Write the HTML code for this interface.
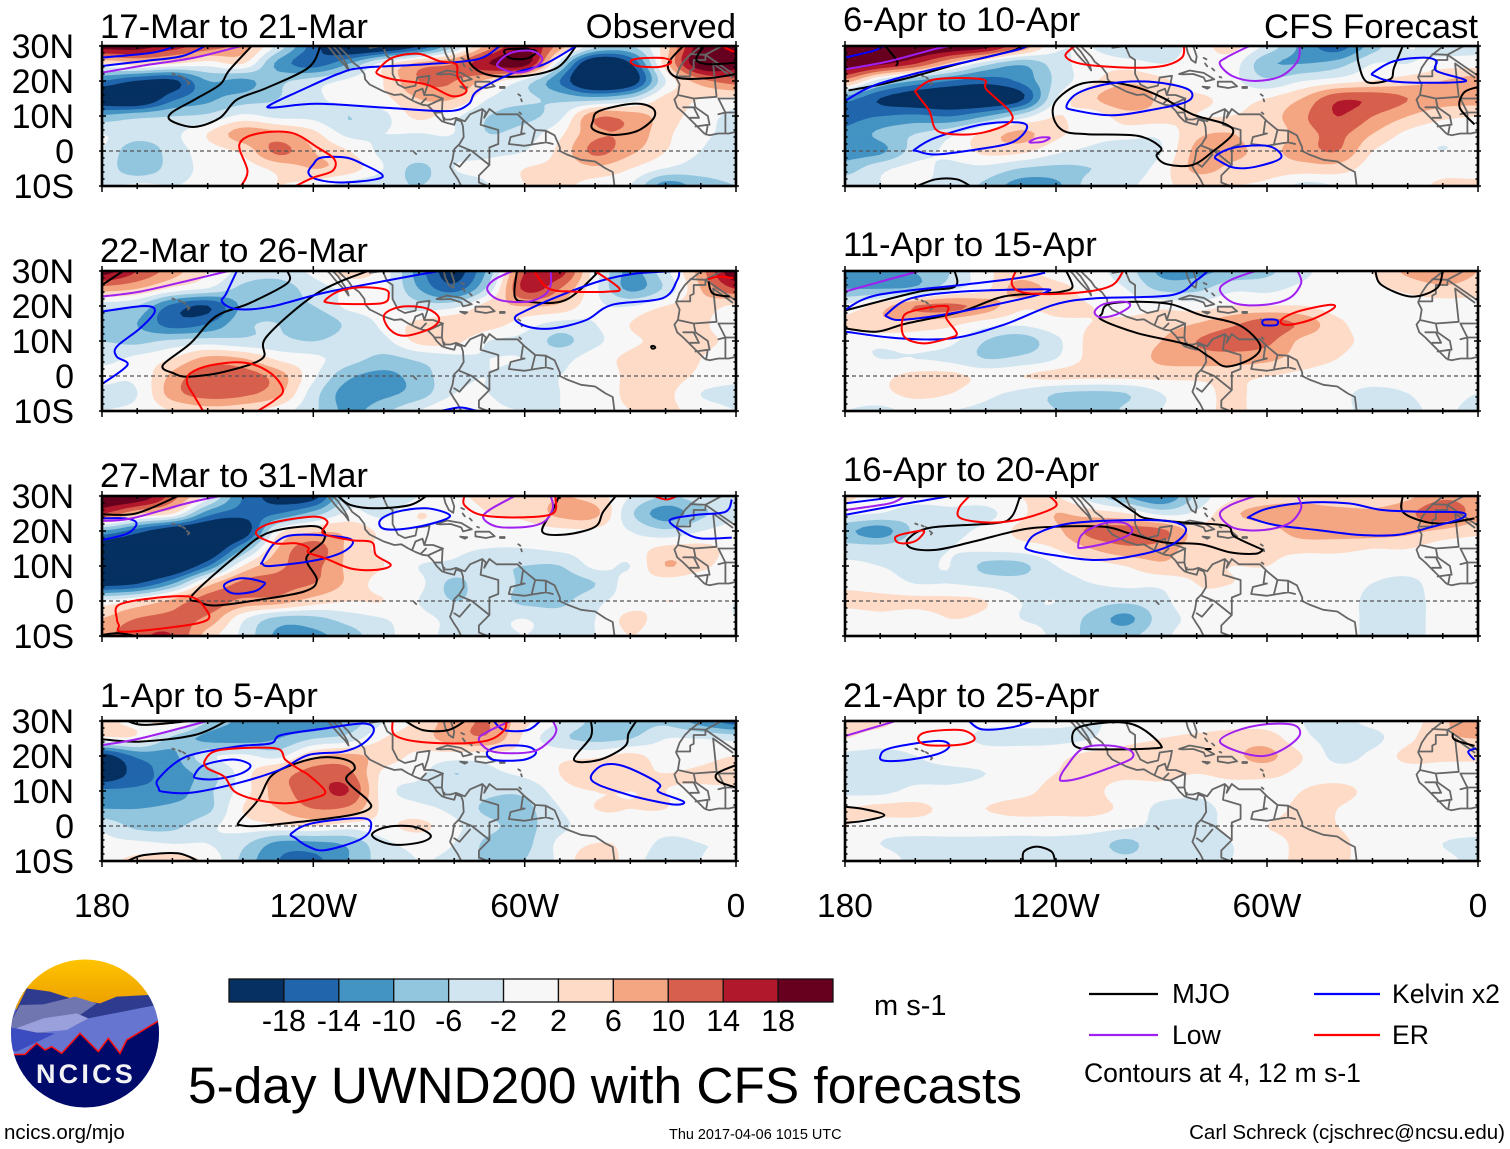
<!DOCTYPE html>
<html lang="en">
<head>
<meta charset="utf-8">
<title>5-day UWND200 with CFS forecasts</title>
<style>
html,body{margin:0;padding:0;background:#fff;width:1510px;height:1149px;overflow:hidden}
svg{display:block}
text{font-family:"Liberation Sans",Arial,sans-serif;fill:#000}
</style>
</head>
<body>
<svg id="chart" xmlns="http://www.w3.org/2000/svg" width="1510" height="1149" viewBox="0 0 1510 1149">
<rect width="1510" height="1149" fill="#fff"/>
<g id="panels"></g>

<g id="colorbar"></g>
<text x="874" y="1015" font-size="29">m s-1</text>

<text x="188" y="1103" font-size="51.4">5-day UWND200 with CFS forecasts</text>

<g>
  <line x1="1089" x2="1158" y1="994" y2="994" stroke="#000" stroke-width="2.2"/>
  <text x="1172" y="1003" font-size="27.5">MJO</text>
  <line x1="1314" x2="1380" y1="994" y2="994" stroke="#0000ff" stroke-width="2.2"/>
  <text x="1392" y="1003" font-size="26.6">Kelvin x2</text>
  <line x1="1089" x2="1158" y1="1035" y2="1035" stroke="#a020f0" stroke-width="2.2"/>
  <text x="1172" y="1044" font-size="26.6">Low</text>
  <line x1="1314" x2="1380" y1="1035" y2="1035" stroke="#ff0000" stroke-width="2.2"/>
  <text x="1392" y="1044" font-size="26.6">ER</text>
  <text x="1084" y="1082" font-size="26.5">Contours at 4, 12 m s-1</text>
</g>

<text x="4" y="1139" font-size="20.5">ncics.org/mjo</text>
<text x="669" y="1139" font-size="14.45">Thu 2017-04-06 1015 UTC</text>
<text x="1505" y="1139" font-size="20.5" text-anchor="end">Carl Schreck (cjschrec@ncsu.edu)</text>

<g>
  <defs><clipPath id="logoClip"><circle cx="85" cy="1033.5" r="74"/></clipPath>
  <linearGradient id="sunGrad" x1="0" y1="0" x2="0" y2="1"><stop offset="0" stop-color="#ffc400"/><stop offset="1" stop-color="#eb9c00"/></linearGradient></defs>
  <g clip-path="url(#logoClip)">
    <rect x="10" y="990" width="150" height="100" fill="#6575d0"/>
    <rect x="10" y="959" width="150" height="50" fill="url(#sunGrad)"/>
    <g transform="translate(0,950) scale(0.33333)">
      <path d="M80,115 L150,125 L215,146 L300,160 L350,140 L445,135 L490,210 L20,240 Z" fill="#2f3b8f"/>
      <path d="M20,240 L60,165 L130,163 L225,140 L290,160 L240,195 L265,210 L100,260 Z" fill="#7077b0"/>
      <path d="M240,195 L340,150 L450,135 L470,165 L265,205 Z" fill="#2f3b8f"/>
      <path d="M30,320 L130,270 L200,240 L265,205 L470,165 L490,230 L360,320 Z" fill="#6575d0"/>
      <path d="M48,235 L130,205 L230,190 L265,205 L200,240 L110,248 Z" fill="#9aa0dc"/>
      <path d="M20,232 L48,235 L110,248 L165,250 L50,305 L20,300 Z" fill="#3b4bc0"/>
      <path d="M20,315 L75,313 L110,280 L135,300 L155,290 L185,310 L240,250 L295,305 L325,265 L360,310 L380,270 L480,210 L500,600 L0,600 Z" fill="#000a6b"/>
      <path d="M40,314 L75,313 L110,280 L135,300 L155,290 L185,310 L240,250 L295,305 L325,265 L360,310 L380,270 L480,210" fill="none" stroke="#ff1010" stroke-width="4.5"/>
    </g>
    <text x="86" y="1083" text-anchor="middle" font-size="27" font-weight="bold" letter-spacing="3.2" style="fill:#f2f2f5">NCICS</text>
  </g>
</g>
</svg>

<script>
// ---- Colour scale ----
const levels = [-18,-14,-10,-6,-2,2,6,10,14,18];
const colors = ["#053061","#2166ac","#4393c3","#92c5de","#d1e5f0","#f7f7f7","#fddbc7","#f4a582","#d6604d","#b2182b","#67001f"];

// ---- Axes ----
const gridLons = [180,170,160,150,140,130,120,110,100,90,80,70,60,50,40,30,20,10,0];
const gridLats = [30,25,20,15,10,5,0,-5,-10];
const latTicks = [30,20,10,0,-10];
const latLabels = ["30N","20N","10N","0","10S"];
const lonTicks = [180,120,60,0];
const lonLabels = ["180","120W","60W","0"];
const panelTitles = ["17-Mar to 21-Mar","22-Mar to 26-Mar","27-Mar to 31-Mar","1-Apr to 5-Apr","6-Apr to 10-Apr","11-Apr to 15-Apr","16-Apr to 20-Apr","21-Apr to 25-Apr"];

// ---- Zonal wind anomaly (m/s): rows = gridLats, columns = gridLons ----
const u17Mar = [
[20,20,16,12,8,-3,-16,-24,-24,-18,-6,8,18,8,-4,-6,4,20,20],
[2,4,2,0,2,-11,-16,-10,0,7,10,18,20,-4,-24,-18,4,22,20],
[-14,-18,-19,-10,-11,-7,-4,-1,2,10,10,4,-3,-14,-26,-22,-2,8,12],
[-22,-24,-15,-11,-8,-6,-3,0,1,6,6,-2,-5,-7,-8,-5,3,2,1],
[-9,-7,-6,-5,-1,-3,-3,-6,-3,3,-1,-6,-7,-3,9,8,4,0,-3],
[-2,-4,-3,2,8,7,3,-3,-2,-2,-2,-6,-4,1,9,9,3,-1,-3],
[-2,-9,-4,0,3,11,6,2,-3,-3,-3,-3,-2,3,11,7,2,-2,-4],
[-3,-9,-4,-1,0,3,6,4,-2,-7,-2,-1,2,3,5,2,-2,-4,-4],
[-3,-1,-2,-1,0,2,0,-4,-5,-6,-4,-2,2,3,0,-2,-12,-8,-6]];
const u22Mar = [
[20,14,8,2,-3,-4,-1,4,0,-12,-20,-8,14,16,0,-11,-3,8,22],
[8,6,1,-2,-7,-8,-4,-1,-1,-10,-16,-4,15,10,-1,-11,-5,6,14],
[-4,-6,-15,-18,-9,-7,-6,-1,-1,-4,-3,4,6,5,-1,-2,2,4,1],
[-10,-10,-16,-14,-7,-6,-9,-5,-1,3,5,4,0,-3,-2,2,6,3,-1],
[-6,-7,-5,-4,-5,-5,-6,-4,-3,3,3,-2,-3,-7,-3,1,3,3,1],
[-3,-1,2,7,6,1,-1,-4,-7,-5,-3,-2,-2,-3,0,3,5,2,-1],
[-1,-1,7,13,12,8,-1,-9,-11,-8,-3,-2,-3,-2,-1,3,4,1,-1],
[-3,-2,8,12,11,7,-4,-12,-11,-8,-2,-2,-4,-2,-1,3,3,-2,-3],
[-2,-1,2,4,3,0,-5,-11,-7,-2,2,-1,-2,-2,0,2,3,0,-2]];
const u27Mar = [
[22,22,12,0,-14,-20,-20,-4,-6,-2,1,3,3,6,4,-2,-6,-4,-2],
[14,6,2,-12,-16,-14,-8,-1,-3,2,0,2,3,7,7,-5,-12,-7,-3],
[-10,-16,-22,-24,-22,0,5,5,1,1,0,0,0,1,1,-2,-5,-2,0],
[-22,-24,-24,-24,-10,6,12,5,1,1,-1,-2,-2,-1,0,0,3,3,1],
[-24,-24,-24,-14,2,9,11,5,2,-2,-3,-5,-6,-6,-1,-2,6,3,0],
[-20,-18,-10,4,11,11,10,5,0,-1,-7,-3,-7,-8,-6,0,0,-1,0],
[-1,2,7,12,9,8,4,2,2,-2,-6,-4,-7,-7,-3,0,2,1,-2],
[6,10,11,9,-1,-7,-7,-4,-2,-1,-3,-3,-2,-4,-2,3,0,-1,-2],
[9,13,14,4,-3,-11,-11,-8,-3,-1,-3,-3,-2,-3,-2,2,-1,-1,-2]];
const u1Apr = [
[3,1,3,-6,-11,-12,-14,-9,-2,3,8,10,3,-2,-7,-8,-7,-12,-16],
[1,1,-7,-11,-12,-10,-6,-4,2,4,8,9,1,-5,-7,-6,-2,-2,-3],
[-20,-13,-11,-3,-1,-3,5,7,4,1,0,0,1,1,1,3,0,0,2],
[-22,-16,-12,-8,0,7,12,11,1,-1,-6,-3,-1,2,6,3,2,3,6],
[-13,-13,-12,-7,0,8,12,14,0,-3,-3,-5,-5,0,2,2,2,1,0],
[-10,-10,-9,-7,2,6,10,9,1,-1,-3,-7,-7,-2,2,2,2,0,0],
[-3,-7,-7,-3,0,1,2,0,1,3,-1,-5,-7,-3,0,1,0,0,0],
[-1,-1,-2,-2,-5,-11,-11,-9,-3,-1,-2,-7,-7,-1,2,1,-3,-2,-2],
[1,3,4,1,-7,-14,-15,-10,-4,-2,-3,-7,-6,-1,5,0,-4,-2,0]];
const u6Apr = [
[20,22,22,22,20,10,-1,-2,-6,-5,0,3,-3,-11,-16,-8,-2,-4,-3],
[22,19,14,5,-4,-9,-4,0,0,-2,0,0,-9,-10,-8,-2,-2,0,0],
[8,-4,-10,-14,-16,-13,-5,1,5,3,-1,-1,-5,-2,0,2,4,6,8],
[-12,-18,-21,-22,-23,-19,-2,5,9,5,3,1,2,6,13,13,10,8,8],
[-15,-14,-13,-14,-10,-4,2,0,4,4,2,2,4,9,14,10,6,3,2],
[-13,-9,-6,-3,3,7,3,0,0,-1,5,6,3,8,11,6,1,-1,0],
[-12,-11,-4,-1,3,3,-1,-3,-5,-2,7,7,5,8,10,2,-1,-2,-1],
[-8,-3,-1,-3,-3,-6,-7,-6,-5,0,7,5,4,4,4,0,-1,0,0],
[-3,-2,-2,-3,-7,-12,-11,-4,-3,1,3,2,1,-3,-2,-1,0,3,3]];
const u11Apr = [
[-12,-11,-10,-6,1,3,-1,-1,-4,-11,-11,-9,-7,-3,0,2,7,9,6],
[-10,-10,-9,-3,1,8,4,0,-2,-7,-7,-3,-3,-1,0,1,3,5,4],
[-1,4,10,11,8,3,3,2,0,1,0,2,2,2,0,0,0,0,0],
[3,5,4,3,0,-1,1,2,3,4,6,9,12,9,3,0,0,0,0],
[-1,-1,0,-1,-6,-8,-3,3,3,6,10,12,11,5,3,1,0,-1,-1],
[-1,-2,-2,-3,-6,-5,-2,3,3,7,8,8,7,4,2,0,-1,-1,-1],
[0,1,3,3,1,2,3,3,3,3,3,3,2,1,0,0,0,0,0],
[0,1,3,2,-1,-3,-6,-7,-6,-2,0,3,0,0,-1,-3,-2,0,-2],
[-2,-3,-1,-2,-3,-4,-6,-9,-5,-2,0,3,0,0,-1,-3,-3,-1,-4]];
const u16Apr = [
[3,0,0,0,0,2,2,-4,-10,-14,-5,1,3,4,2,3,5,9,8],
[-1,-2,-4,-3,-3,1,6,4,2,-3,-1,5,8,9,8,7,9,13,8],
[-9,-12,-5,-3,-1,3,5,11,12,11,4,3,4,8,8,8,7,5,3],
[-4,-4,-3,-2,-1,0,2,6,9,8,4,4,3,3,3,2,2,0,0],
[-1,-2,-3,-2,-7,-7,-2,0,2,5,3,2,2,0,0,0,0,0,0],
[1,0,-2,-2,-3,-4,-3,-2,-1,-1,2,2,0,0,0,-2,-3,0,0],
[3,3,3,3,2,-2,-2,-4,-5,-3,1,0,0,0,0,-3,-3,-1,-1],
[0,1,0,2,1,-2,-3,-7,-11,-4,-1,0,0,0,0,-3,-3,-1,-1],
[0,0,0,0,0,0,-3,-7,-7,-3,0,0,0,0,0,-3,-3,-1,-1]];
const u21Apr = [
[3,3,0,0,-1,-1,-1,-2,-2,-2,-1,0,0,-2,-3,-1,0,5,10],
[2,0,0,0,-3,-3,-3,-2,1,2,3,4,4,-1,-3,-3,1,5,6],
[-3,-3,-2,0,0,0,1,3,3,2,3,5,7,2,-3,-1,3,3,3],
[-3,-3,-3,-3,-2,0,2,3,3,3,2,3,3,1,0,0,0,0,0],
[-3,-3,-1,-1,0,1,3,3,0,0,-1,0,0,2,3,1,0,0,0],
[2,3,3,1,2,3,3,3,1,-3,-3,-1,0,3,2,0,0,0,0],
[2,0,0,0,0,0,0,0,-1,-3,-3,-1,2,3,2,0,0,0,0],
[0,-2,-3,-3,-3,-3,-3,-4,-7,-3,-3,-2,0,3,3,0,0,-2,-3],
[0,0,-3,-3,-3,-2,-3,-3,-5,-3,-2,-2,0,3,3,0,0,-1,-3]];
const windFields = [u17Mar,u22Mar,u27Mar,u1Apr,u6Apr,u11Apr,u16Apr,u21Apr];

// ---- Contours: [closed(1)/open(0), lonW, lat, lonW, lat, ...] ----
const mjo17Mar = [
[0,137.5,30,144,22.9,146.5,19,153.7,14.7,160.3,10.9,160.3,8.6,153.7,6.9,146.5,9.5,141.7,14.7,133.3,18,121.4,23.8,118,30],
[1,65.8,28.6,62.8,29.2,56.8,28.6,59.2,26.5,64,26.5],
[0,76.5,30,75.3,24.8,70,21.7,60.4,21.4,50.8,23.8,45.4,30],
[1,40.6,8.6,38.9,11.4,29.3,13.5,23.9,12.4,23.3,9.5,28.1,5.7,35.3,4.6,40.6,6.2],
[0,15,30,19.3,24.8,16.7,21,7.8,20.8,0,22],
[0,9,30,11.3,26.2,7.8,24.8,0,25.2]];
const kelvin17Mar = [
[0,180,26.7,165.6,28.1,159,30],
[0,180,24.3,168,25.7,157.3,27.1,150.7,30],
[0,45.4,30,54.4,24.8,64,22,73.5,17.1,76,13.3,82,11.4,100,12.4,119,13.5,131.6,12.4,132,13.3,124,17.1,113,22,105.8,23.8,88,24.8,73.5,26.2,67,30],
[1,120,-3.8,117.8,-1.9,110.6,-1.9,105.8,-3.8,100.5,-6.7,102.3,-8.1,111.8,-9,119,-8.1,121.4,-6.2]];
const low17Mar = [
[0,180,22.4,169,24.3,153.7,26.7,140.5,30],
[1,67.6,25.2,64,28,58,28.6,55,26.2,58,23.3,62.8,22.4,67,23.8]];
const er17Mar = [
[1,101.6,23.3,97.4,26.7,90.2,27.8,84.3,25.7,79.5,24.8,79,21,76.5,17.1,80.7,15.7,87.9,19,97.4,20.5,101.6,21.9],
[0,140.5,-10,138.7,-5.7,141,1.9,135.7,5,126.2,5.2,118.8,1,114,-2.4,114.6,-5.7,120,-7.6,125,-10],
[1,29.9,25.7,26.9,26.5,20.3,26.5,18.5,25.2,22,24,28,24.3],
[0,4,30,0,28]];

const mjo22Mar = [
[0,180,26,174,30],
[0,127.4,30,127.4,26.5,138.1,20.8,147.7,17,154.9,9.3,162.7,3.1,159.7,0.8,155.5,-0.2,145.3,1.2,134.5,5,133.3,11.2,119,23.6,104.6,30],
[0,62.2,30,62.8,22.7,59.2,21.2,48.4,21.7,38.8,30],
[0,7.8,27,6.6,23.6,1.8,22.7],
[1,24.1,8.4,23.4,8.6,22.9,8.1,23.7,7.8]];
const kelvin22Mar = [
[0,141.7,30,144.7,23.6,145.9,21.2,141.7,19.1,132.1,19.8,115.4,24.1,84.3,30],
[0,180,18.4,168,20,165,18.4,169.2,13.6,175.8,8.4,175.8,5.5,172.8,3.1,180,-2.3],
[0,16.1,30,16.7,27.4,20.9,22.2,35.3,20.3,42.5,16,52,13.6,59.2,14.1,62.8,16.5,59.2,18.9,48.4,23.6,37.7,27.4,28.1,29.3,16.7,30],
[0,83.7,-10,78.3,-9,73.5,-10]];
const low22Mar = [
[0,180,22.7,169.2,24.1,154.9,27.4,144.1,30],
[0,63.4,30,68.8,27.4,70.6,24.6,67,21.7,59.2,21.2,54.4,23.1,52.6,26,52.6,30]];
const er22Mar = [
[0,151.3,-10,153.7,-5.9,155.8,-2.1,154.9,0.8,148.9,3.1,139.4,3.8,132.1,0.8,128.6,-4,131,-6.9,135.8,-10],
[1,116.6,21.7,113,24.1,107,25.3,99.9,24.8,98.6,23.1,100.5,20.8,111.8,20.6,116,21],
[1,99.9,17.4,95.1,19.8,87.9,19.3,84.3,16.5,86.7,13.6,93.9,11.5,98.1,13.1],
[0,57.4,30,53.2,25,46,24.1,36.4,24.1,33.1,25,40,30],
[0,8,27.6,5,28.4,0,27.9]];

const mjo27Mar = [
[0,180,24.8,170.4,25,158.4,30],
[1,154.3,1.7,141.7,13.1,133.3,19.3,121.4,21.4,117.2,20.3,117.2,17,122,12.2,119,6,122.6,2.7,135.7,0.3,147.7,-1.3,152.5,-0.2],
[0,113,30,109.4,27.4,102.2,26.5,92.6,27.4,87.9,30],
[0,50.2,30,52,26,55,19.8,48.4,19,40,21.2,37.7,25.5,34.1,30],
[0,180,-9.7,175.2,-9.2,170.4,-10]];
const kelvin27Mar = [
[0,180,23.6,173.4,23.6,170.2,22.2,172.8,19.3,180,17.4],
[1,134.5,11.2,131,16.5,125,18.9,110,17.9,110.6,14.6,119,11.7,132,10,134.5,10.7],
[1,145.3,4.6,140.5,6.5,134.5,5.5,134,4.6,136.9,2.7,142.9,2.2],
[1,101,23.1,96.3,25.5,87.9,26.5,81.3,24.6,84.3,22.7,92.7,20.8,99.9,20.6],
[0,1.2,29,3,25.5,11.3,24.6,18.8,23.1,15,19.8,10.1,17.9,1.2,18.1]];
const low27Mar = [
[0,180,22.9,171.6,23.6,156,27.9,146.5,30],
[0,62.8,30,70,26,71.7,23.6,67.6,21.2,59.2,21.2,54.4,22.7,52,26.5,52.6,30]];
const er27Mar = [
[1,175.8,-5,175.2,-1.1,165.6,0.8,154.9,1.2,150.7,-2.1,150.1,-5.4,158.5,-7.3,174,-8.8,175.2,-6.9],
[1,136.3,19.3,132.1,22.2,120.1,24.1,116,22.7,117.2,19.3,109.4,17.4,103.4,16.8,102.2,13.1,98,10.3,102.2,8.9,109.4,9.3,116.6,12.2,121.4,13.8,121.4,15.2,125,16.5,131,16.5],
[0,77.1,30,77.1,27.4,72.4,24.6,61.7,23.9,52,25,51.3,30],
[0,23.3,30,19.8,29,16.7,30]];

const mjo1Apr = [
[0,172.8,30,168,28.9,154.9,30],
[0,180,24.8,169.2,24.1,153.7,26,144.7,30],
[1,141.1,1.2,135.7,7.4,132.1,14.1,126.2,17.4,117.8,19.6,110.6,18.9,108.2,16.5,110.6,13.1,104.6,7.4,104,5,109.4,3.1,123.7,1.2,135.7,0,140.5,0.2],
[0,93.9,30,88.9,27.4,81.7,27.4,76.9,30],
[1,103.2,-2.1,98.7,-0.2,91.5,-0.2,86.7,-2.6,89.1,-4.5,96.3,-5.4,101.7,-4],
[0,41.2,30,41.2,25.5,46,18.9,38.8,18.9,31.6,22.7,30.5,26.5,28.3,30],
[0,172.8,-10,168,-8.3,158.5,-7.8,152.7,-10],
[0,0,17.4,5.4,15,4.8,12.7,0,11]];
const kelvin1Apr = [
[1,163.9,10.8,163.9,13.6,156.1,19.8,141.7,22.7,132.1,23.6,129.1,26,116.6,27.9,105.8,29.3,102.8,27.4,105.8,23.6,111.8,21.2,121.4,20.3,129.7,16,141.7,12.2,154.9,9.5,162.7,9.8],
[1,153.7,14.6,151,17.4,142.9,19,137.9,17.4,140.5,15,147.7,13.4,153,13.6],
[1,126.2,-2.1,120.2,0.8,105.8,2.2,103.7,-0.7,107,-4,116.6,-6.9,121.4,-5.9,125,-3.5],
[0,68.8,30,65.8,27.4,59.2,27.4,55.6,30],
[1,70.6,21.2,66.4,22.9,59.2,22.7,56.8,20.8,60.4,18.9,68.8,18.9],
[1,41.2,14.1,37.7,17.4,31.6,17,22,12.2,22,9.8,14.9,7,17.3,6.1,24.5,7.4,30.5,8.9,38.9,11.7]];
const low1Apr = [
[0,180,23.1,169.2,25,150.1,30],
[0,64,30,70.6,26.9,73,24.6,68.8,21.2,58,21.2,52.6,24.6,51,27.4,52,30]];
const er1Apr = [
[1,150.7,18.9,146.5,21.7,130.9,22.2,127.9,18.9,123.7,16,121.4,14.6,116.6,9.8,120.2,7.9,127.4,6.5,135.7,7.4,142.3,9.8,145.3,14.1,150.1,16.5],
[0,97.5,30,96.9,26,90.3,24.1,78.3,23.6,70,24.6,65.8,27.4,65.2,30]];

const mjo6Apr = [
[0,168.5,30,165.2,25.7,165.5,24.3],
[0,179,17.3,170,19,160.1,21.4,148,24.8,132.7,28.6,130.2,30],
[1,105.1,19.7,113.5,19,120,14.3,120.7,9.5,117.7,5.7,111,4.8,96.7,4.3,90.2,1,91.4,-1.4,88.4,-3.8,81.2,-4,75.2,0,69.8,4.8,71.6,7.6,81.2,10.5,89.6,15.2,96.7,18.1],
[0,34.5,30,33.9,24.8,31.5,19.7,25,20.5,23.9,23.8,21.4,30],
[0,0,18.3,4,16.7,5.2,12.4,1,7.6],
[0,159.5,-10,154.2,-8.1,148.2,-8.1,144.4,-10]];
const kelvin6Apr = [
[0,180,26.7,172,28.6,169,30],
[0,180,14.3,172.1,18.6,159,22.4,144.6,25.7,131.4,28.8,128,30],
[1,117,12.9,113.5,16.7,103.9,19.4,92,19.7,82.4,17.6,82.4,14.3,92,11.9,103.9,10.2,114.6,11.6],
[1,160.1,0.5,154.2,3.8,141,7.6,130.2,8.1,128.4,6.2,132.6,2.4,142.2,0.5,154.2,-1,159.5,0],
[1,74.6,-1.4,69.2,1,59.6,1.4,56,-1.9,63.3,-4.5,69.2,-4.8,73.4,-2.9],
[1,29.8,22.4,23.8,25.7,15.4,26.7,11.8,25.7,11.8,22.9,3.4,20,15.4,19.5,25,20,29.2,21.4]];
const low6Apr = [
[0,180,23.3,167.3,25.7,154.2,29.2,150,30],
[1,127.2,2.9,124.8,3.8,121.8,3.8,123.6,2.7,127.2,2.4],
[0,65,30,71.6,26.7,73.4,24.8,69.8,21.4,63.3,20,56,21.4,51.3,25.7,50.7,30]];
const er6Apr = [
[1,159.5,16.2,159.5,17.6,154.2,20.5,141,20.5,139.8,17.6,133.2,11.4,133.2,8.1,141,5.2,149.4,4.8,154.2,6.2,156,11.4],
[0,114.7,30,117.3,27.1,112.3,24.8,99.1,23.8,89.6,24.3,84.2,26.7,83.6,30]];

const mjo11Apr = [
[0,180,13.6,170.9,12.7,162.5,15,147,18.4,135,22.7,123.1,23.6,118.3,24.1,115.3,25.5,117.1,30],
[0,148.8,30,148.8,25.5,159,24.1,179.3,18.9,180,18.5],
[1,106.9,17.9,105.1,20.5,96.7,21.2,87.2,20.5,78.8,17.4,68,14.6,62,8.9,64.4,5,71.6,2.7,76.4,5.5,82.4,8.9,96.7,12.2,106.9,16],
[0,29.2,30,27.4,26,19,22.7,11.8,25,10,30]];
const kelvin11Apr = [
[0,123.1,29.5,131.4,27.9,147,26,170.9,23.1,180,18.9],
[0,180,12.7,164.9,10.8,149.4,10.8,135,14.6,120.7,20.3,108.7,22.2,87.2,23.1,80,27.4,76.8,30],
[1,167.9,17.9,161.3,22.2,147,24.1,124.3,24.8,122.5,24.1,129.1,22.2,147,18.4,159,16.5,165,16,167.9,16.9],
[1,60.9,16,57.3,16,57.3,14.6,60.9,14.6]];
const low11Apr = [
[0,180,24.1,169.7,27,158.9,30],
[1,109,18.4,106.3,20.6,100.3,21.2,99.1,19.8,103.3,17.4,107.5,16.8],
[0,63.3,30,70.4,27.4,73.4,24.6,69.2,20.8,60.9,20.3,53.7,22.2,50.3,26.5,51.3,30]];
const er11Apr = [
[1,163.7,16,161.3,18.4,151.2,20,151.2,16.5,148.2,12.2,150.6,10.8,157.8,9.3,163.1,11.2],
[0,131.4,30,132.6,26.5,130.2,24.1,123.1,23.4,111.1,24.1,103.9,26,100.9,30],
[1,56,16,51.3,18.4,42.3,20.3,41.1,19.3,47.7,16,54.4,14.6]];

const mjo16Apr = [
[0,130.2,30,132.6,24.1,137.4,22.2,155.4,21,161.9,17.9,161.3,15.2,154.2,14.6,143.4,17,130.2,20.3,120.7,21.2,106.3,21.2,99.1,19.3,89.6,16.8,78.8,16.2,70.4,13.9,63.3,13.5,61.1,14.6],
[0,104.5,30,97.9,25.5,94.3,23.6,83.6,22.4,71.6,21.5,69.2,18.4,61.1,14.6],
[0,21.4,30,21.4,25.5,15.4,22.7,9.4,22.2,1,23.6]];
const kelvin16Apr = [
[0,180,27.9,167.3,29.5,165,30],
[0,180,24.6,164.9,27.4,153,29.5,150,30],
[1,128.4,16,125.4,19.3,115.8,22.2,99.1,23.1,87.2,22.7,83,20.3,87.2,16,96.7,13.1,108.7,11.7,120.7,13.1,127.8,14.6],
[1,65,24.1,59.6,26.5,48.8,28.1,36.8,27.9,27.3,26,15.4,25.5,4.7,25.3,4.7,23.6,13,21.2,23,18.9,33.9,18.9,45.8,20.3,57.7,21.7,64.4,23.6]];
const low16Apr = [
[0,180,26,167.3,27.9,163.1,30],
[1,113.7,15.8,112.3,19.3,106.3,22.2,100.3,22.2,98.5,19.6,103.9,17,112.3,15.2],
[0,63.3,30,70.4,27.4,73.4,24.6,69.2,20.8,60.9,20.3,53.7,22.2,50.3,26.5,51.3,30]];
const er16Apr = [
[1,165.5,18.4,161.3,19.6,157.5,20,159.5,17.4,162.5,16.5,165.1,16.8],
[0,144.6,30,147.6,26.5,147,23.6,138.6,22.4,129.1,23.6,120.1,27,121.9,30]];

const mjo21Apr = [
[1,115.3,24.1,114.1,27.9,106.3,29.5,99.1,29.3,94.3,27,90.2,23.1,92,22.2,106.3,21.9,113.1,22.2],
[0,180,5.5,174.5,4.8,168.8,3.1,174.5,1.5,180,0.9],
[0,129.4,-10,129.1,-7.3,125.5,-5.9,121.3,-7.3,120.3,-10],
[0,77.6,22,75.8,22],
[0,7.2,26.5,6.6,24.6,1,22.9]];
const kelvin21Apr = [
[1,170,19.8,167.3,22.2,154.2,24.3,150.3,23.1,153,20.8,161.3,19,168.5,18.6],
[0,144.8,30,141,27.6,132.6,28.2,126.7,30],
[0,0.5,22.2,2.8,21.2,1,18.9]];
const low21Apr = [
[0,180,25.7,167.3,29.5,166,30],
[1,118.9,13.6,117.1,16.9,112.3,22.2,105.1,23,99.1,21.7,98.5,19.3,105.1,16.5,113.5,13.6,117.9,12.9],
[1,73.4,24.1,69.2,27,60.9,29,52.5,28.9,50.7,26,54.9,22.2,60.9,20,68,21.2]];
const er21Apr = [
[1,159.2,25,156.5,26.9,146.9,27.4,143.1,25,146.9,23.3,156.5,23.1]];

const mjoContours = [mjo17Mar,mjo22Mar,mjo27Mar,mjo1Apr,mjo6Apr,mjo11Apr,mjo16Apr,mjo21Apr];
const kelvinContours = [kelvin17Mar,kelvin22Mar,kelvin27Mar,kelvin1Apr,kelvin6Apr,kelvin11Apr,kelvin16Apr,kelvin21Apr];
const lowContours = [low17Mar,low22Mar,low27Mar,low1Apr,low6Apr,low11Apr,low16Apr,low21Apr];
const erContours = [er17Mar,er22Mar,er27Mar,er1Apr,er6Apr,er11Apr,er16Apr,er21Apr];

// ---- Coastlines and borders (lonW, lat) ----
const coastLines = [
[116,30,115,29,114,27.7,112.5,26,111,24.5,110,23,110.3,24.2,111,25.5,112,27,113,28.5,114.5,30],
[113,30,112,29,110,27,109,25.5,107,24,105.5,22,105.3,20.5,104,19,102,18,100,17,97,16,95,16.2,93,15,91,14,89,13.2,87.5,13,86,11.5,85,10,83.5,8.5,82,8,80,7.5,79.5,9,78,8.5,77.5,7,77.3,4,78.5,2,80,0.5,80.5,-2.5,81.2,-4.5,80,-6.5,79,-8,78,-10],
[100.3,30,99,27,97.5,26,97.5,22,96,19,94,18,91,18.7,90.5,21,87,21.5,87.5,19,88.5,16,86,16,83.3,15,83.5,11,83,9,81,9,79.5,9.5,77,8.5,75.5,10.5,72,12,71,11,71.5,9.5,70,12,68,10.5,64,10.5,62,10.5,60,8.5,57,6,54,5.8,51.5,4.5,50,1,50,0,48,-1,44,-2.5,40,-3,37,-5,35,-6,34.5,-10],
[83,30,82.5,28,81.5,26,80.3,25.2,80,27,81,30],
[85,22,82,23,78,22.3,75,20.5,77.5,19.9,78,21,81,22,84,21.9,85,22],
[74,19.8,70,19.8,68.5,18.5,71,18,74,18.5,74,19.8],
[67,18.3,65.7,18.3,65.7,18,67,18,67,18.3],
[78.3,18.4,76.3,18.2,77,17.8,78.3,18.4],
[78,26.6,77.2,26.2],[77.6,25,77,24.2],[75.6,23.6,75,23],[73.5,21.2,73,21],
[61.8,16.2,61.2,15.8],[61,14.8,60.8,14.2],[61.5,11,61,10.6],
[160,22.1,159.4,21.9],[158.2,21.6,157.6,21.3],[157,21.1,156.4,20.7],[155.9,20,155.2,19.4,155.6,19],
[91.4,-0.3,90.8,-0.9],
[104,29.5,100.3,30],
[92,14.5,91,17,89,17.8,88.5,16],[87.5,13,83.2,15],[85.7,11,83.7,11],[83,8.5,82.8,9.5],[89.5,13.5,88,15],
[72,11.5,72.5,7.5,67.5,6,67.5,2,70,1,70,-4,73,-7,73,-9,70.5,-10],
[60.5,8.5,61,5,60,5,64,4,64.5,2,60,1.5,57,2,54,2.5,52,2],
[57,6,58,2],[54,5.8,54,2.5],
[78.5,1.5,75,0,70,-4],[80,-3.5,78.5,-4.5,75.5,-1],
[9.8,30,13,27.5,14.5,26,16,23.8,17,21,16,19,16.5,16,17.5,14.7,16.7,12.5,15,11,13.5,9.5,11,7,9,5,7.5,4.5,5,5,2,5,0,5.5],
[8.7,27.5,8.7,26,12,26,12,23.5,13,23,13,21.3,17,21.3],
[13,27.7,8.7,27.5,0,21.5],[8.7,27.5,4,30],
[6.5,25,5.5,15.5,12,15,16.5,16],[6.5,25,1,21],
[12,15,11.5,12.5,8,10,7.5,7.5],[5,10.5,3,11,3,5],[0,15,5,15,3,11],
[15,12.5,12,12.5,10.5,9.5,13,9.5],[11.5,7,8,7.5,8.5,4.7],[0,11,3,11]];

// ---- Colourbar layout ----
const cbar = {x0:229,x1:833,y0:979,y1:1002};

// ---- Panel geometry ----
const panelBoxes = [
 {x0:102,x1:736,y0:46,titleY:38},{x0:102,x1:736,y0:271,titleY:262},
 {x0:102,x1:736,y0:496,titleY:487},{x0:102,x1:736,y0:721,titleY:707},
 {x0:845,x1:1478,y0:46,titleY:31},{x0:845,x1:1478,y0:271,titleY:256},
 {x0:845,x1:1478,y0:496,titleY:481},{x0:845,x1:1478,y0:721,titleY:707}];
const PANEL_H = 140;
const NS = "http://www.w3.org/2000/svg";

function mk(tag, attrs, parent){
  const el = document.createElementNS(NS, tag);
  for (const k in attrs) el.setAttribute(k, attrs[k]);
  parent.appendChild(el);
  return el;
}
function xScale(box, lon){ return box.x0 + (180-lon)/180*(box.x1-box.x0); }
function yScale(box, lat){ return box.y0 + (30-lat)/40*PANEL_H; }

function cr(p0,p1,p2,p3,t){
  return 0.5*((2*p1)+(-p0+p2)*t+(2*p0-5*p1+4*p2-p3)*t*t+(-p0+3*p1-3*p2+p3)*t*t*t);
}
function sampleField(g, lon, lat){
  const fx=(180-lon)/10, fy=(30-lat)/5;
  const nc=gridLons.length, nr=gridLats.length;
  const ix=Math.min(Math.floor(fx),nc-2), iy=Math.min(Math.floor(fy),nr-2);
  const tx=fx-ix, ty=fy-iy;
  const col=[];
  for(let j=-1;j<=2;j++){
    const r=g[Math.max(0,Math.min(nr-1,iy+j))];
    col.push(cr(r[Math.max(0,ix-1)],r[ix],r[ix+1],r[Math.min(nc-1,ix+2)],tx));
  }
  return cr(col[0],col[1],col[2],col[3],ty);
}
const LON_STEP=1, LAT_STEP=1;
// Filled region for one threshold, from upsampled wind values
function bandPath(box, vals, nx, ny, lonAt, latAt, test, level){
  let d="";
  for(let j=0;j<ny-1;j++){
    let runStart=-1;
    const ya=yScale(box,latAt(j)).toFixed(1), yb=yScale(box,latAt(j+1)).toFixed(1);
    for(let i=0;i<nx-1;i++){
      const c=[vals[j][i],vals[j][i+1],vals[j+1][i+1],vals[j+1][i]];
      const ins=c.map(test);
      const all=ins[0]&&ins[1]&&ins[2]&&ins[3];
      if(all){ if(runStart<0) runStart=i; continue; }
      if(runStart>=0){
        const xa=xScale(box,lonAt(runStart)).toFixed(1), xb=xScale(box,lonAt(i)).toFixed(1);
        d+="M"+xa+" "+ya+"H"+xb+"V"+yb+"H"+xa+"Z";
        runStart=-1;
      }
      if(!(ins[0]||ins[1]||ins[2]||ins[3])) continue;
      const pts=[[i,j],[i+1,j],[i+1,j+1],[i,j+1]];
      const out=[];
      for(let k=0;k<4;k++){
        const n=(k+1)%4;
        if(ins[k]) out.push(pts[k]);
        if(ins[k]!==ins[n]){
          const t=(level-c[k])/(c[n]-c[k]);
          out.push([pts[k][0]+t*(pts[n][0]-pts[k][0]),pts[k][1]+t*(pts[n][1]-pts[k][1])]);
        }
      }
      d+="M"+out.map(q=>xScale(box,180-q[0]*LON_STEP).toFixed(1)+" "+yScale(box,30-q[1]*LAT_STEP).toFixed(1)).join("L")+"Z";
    }
    if(runStart>=0){
      const xa=xScale(box,lonAt(runStart)).toFixed(1), xb=xScale(box,lonAt(nx-1)).toFixed(1);
      d+="M"+xa+" "+ya+"H"+xb+"V"+yb+"H"+xa+"Z";
    }
  }
  return d;
}

function smoothPath(box, raw){
  const closed=raw[0]===1, pts=[];
  for(let i=1;i<raw.length;i+=2) pts.push([xScale(box,raw[i]),yScale(box,raw[i+1])]);
  const n=pts.length;
  const at=i=>closed?pts[(i+n)%n]:pts[Math.max(0,Math.min(n-1,i))];
  let d="M"+pts[0][0].toFixed(1)+" "+pts[0][1].toFixed(1);
  const segs=closed?n:n-1;
  for(let i=0;i<segs;i++){
    const p0=at(i-1),p1=at(i),p2=at(i+1),p3=at(i+2);
    d+="C"+(p1[0]+(p2[0]-p0[0])/6).toFixed(1)+" "+(p1[1]+(p2[1]-p0[1])/6).toFixed(1)+" "+
      (p2[0]-(p3[0]-p1[0])/6).toFixed(1)+" "+(p2[1]-(p3[1]-p1[1])/6).toFixed(1)+" "+
      p2[0].toFixed(1)+" "+p2[1].toFixed(1);
  }
  return d+(closed?"Z":"");
}

const panelsRoot=document.getElementById("panels");
const defs=mk("defs",{},panelsRoot);
// Paint outward from neutral so stronger bands sit on top of weaker ones
const paintOrder=[-2,-6,-10,-14,-18,2,6,10,14,18];

panelBoxes.forEach((box,idx)=>{
  const slug=panelTitles[idx].toLowerCase().replace(/\s+/g,"-");
  const g=mk("g",{},panelsRoot);
  
  
  const w=box.x1-box.x0;
  const clip=mk("clipPath",{id:"clip"+idx},defs);
  mk("rect",{x:box.x0,y:box.y0,width:w,height:PANEL_H},clip);

  const plot=mk("g",{"clip-path":"url(#clip"+idx+")"},g);
  
  

  const bg=mk("rect",{x:box.x0,y:box.y0,width:w,height:PANEL_H,fill:colors[5]},plot);
  
  

  // wind shading
  const nx=181, ny=41;
  const lonAt=i=>180-i*LON_STEP, latAt=j=>30-j*LAT_STEP;
  const vals=[];
  for(let j=0;j<ny;j++){ const r=[]; for(let i=0;i<nx;i++) r.push(sampleField(windFields[idx],lonAt(i),latAt(j))); vals.push(r); }
  paintOrder.forEach(lv=>{
    const li=levels.indexOf(lv);
    const isPos=lv>0;
    const colorIdx=isPos?li+1:li;
    const test=isPos?(v=>v>=lv):(v=>v<=lv);
    const d=bandPath(box,vals,nx,ny,lonAt,latAt,test,lv);
    if(!d) return;
    const band=mk("path",{d:d,fill:colors[colorIdx],stroke:colors[colorIdx],"stroke-width":"0.6"},plot);
    
    
  });

  // coastlines
  let cd="";
  coastLines.forEach(line=>{
    for(let i=0;i<line.length;i+=2){
      cd+=(i?"L":"M")+xScale(box,line[i]).toFixed(1)+" "+yScale(box,line[i+1]).toFixed(1);
    }
  });
  const coast=mk("path",{d:cd,fill:"none",stroke:"#666","stroke-width":"1.8","stroke-linejoin":"round","stroke-linecap":"round"},plot);
  
  

  // equator
  const eq=mk("line",{x1:box.x0,x2:box.x1,y1:yScale(box,0),y2:yScale(box,0),stroke:"#555","stroke-width":"1.3","stroke-dasharray":"4 3"},plot);
  
  

  // contours
  [[mjoContours,"#000000","mjo"],[kelvinContours,"#0000ff","kelvin"],[lowContours,"#a020f0","low"],[erContours,"#ff0000","er"]].forEach(s=>{
    s[0][idx].forEach(raw=>{
      const p=mk("path",{d:smoothPath(box,raw),fill:"none",stroke:s[1],"stroke-width":"2","stroke-linejoin":"round"},plot);
      
      
    });
  });

  // frame
  const frame=mk("rect",{x:box.x0,y:box.y0,width:w,height:PANEL_H,fill:"none",stroke:"#000","stroke-width":"2.6"},g);
  
  

  // ticks
  let td="";
  for(let lon=180;lon>=0;lon-=10){
    const x=xScale(box,lon).toFixed(1);
    const major=lon%60===0;
    td+="M"+x+" "+(box.y0-(major?5:0))+"V"+(box.y0+3);
    td+="M"+x+" "+(box.y0+PANEL_H-3)+"V"+(box.y0+PANEL_H+(major?6:3));
  }
  for(let lat=30;lat>=-10;lat-=2){
    const y=yScale(box,lat).toFixed(1);
    const major=lat%10===0;
    td+="M"+(box.x0-(major?3:0))+" "+y+"H"+(box.x0+(major?4:2.5));
    td+="M"+(box.x1-(major?4:2.5))+" "+y+"H"+(box.x1+(major?3:0));
  }
  const ticks=mk("path",{d:td,stroke:"#000","stroke-width":"1.5",fill:"none"},g);
  
  

  // title
  const t=mk("text",{x:box.x0-2,y:box.titleY,"font-size":"34.7"},g);
  t.textContent=panelTitles[idx];
  
  

  // y labels appear on the left column only
  if(idx<4){
    latTicks.forEach((lat,k)=>{
      const yl=mk("text",{x:box.x0-28,y:yScale(box,lat)+12,"font-size":"34","text-anchor":"end"},g);
      yl.textContent=latLabels[k];
      
      
    });
  }

  // x labels on bottom row
  if(idx===3||idx===7){
    lonTicks.forEach((lon,k)=>{
      const xl=mk("text",{x:xScale(box,lon),y:917,"font-size":"33.5","text-anchor":"middle"},g);
      xl.textContent=lonLabels[k];
      
      
    });
  }
});

// corner labels
[["Observed",736,"observed-label"],["CFS Forecast",1478,"cfs-forecast-label"]].forEach(c=>{
  const el=mk("text",{x:c[1],y:38,"font-size":"34.7","text-anchor":"end"},panelsRoot);
  el.textContent=c[0];
  
  
});

// colorbar
const cbRoot=document.getElementById("colorbar");
const boxW=(cbar.x1-cbar.x0)/colors.length;
colors.forEach((c,i)=>{
  const r=mk("rect",{x:cbar.x0+i*boxW,y:cbar.y0,width:boxW,height:cbar.y1-cbar.y0,fill:c,stroke:"#111","stroke-width":"1.3"},cbRoot);
  
  
});
levels.forEach((lv,i)=>{
  const t=mk("text",{x:cbar.x0+(i+1)*boxW,y:1031,"font-size":"30.5","text-anchor":"middle"},cbRoot);
  t.textContent=String(lv);
  
  
});
</script>
</body>
</html>
